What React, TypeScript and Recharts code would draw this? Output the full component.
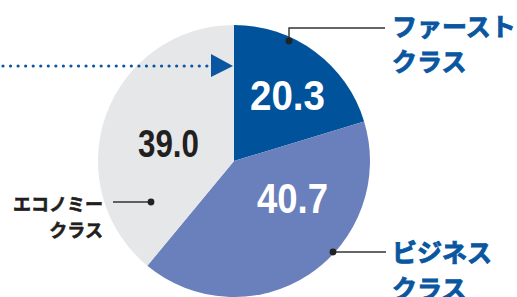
import React from 'react';
import { PieChart, Pie, Cell } from 'recharts';

const categories = ['ファーストクラス', 'ビジネスクラス', 'エコノミークラス'];
const labelLines = [['ファースト', 'クラス'], ['ビジネス', 'クラス'], ['エコノミー', 'クラス']];
const values = [20.3, 40.7, 39.0];
const valueLabels = ['20.3', '40.7', '39.0'];
const colors = ['#00529b', '#6a80bc', '#e6e7e9'];

const data = categories.map((name, i) => ({ name, value: values[i] }));

const NUM_FONT = '"Liberation Sans", Arial, sans-serif';
const JP_FONT = '"Noto Sans CJK JP", "Noto Sans", sans-serif';
const BLUE = '#0a56a0';
const INK = '#231f20';

const jpBlue = { fill: BLUE, stroke: BLUE, strokeWidth: 0.9, fontFamily: JP_FONT, fontWeight: 700, fontSize: 25 } as const;
const jpInk = { fill: INK, stroke: INK, strokeWidth: 0.6, fontFamily: JP_FONT, fontWeight: 700, fontSize: 18 } as const;

const renderLabel = (props: any) => {
  const { cx, cy, index } = props;
  if (index === 0) {
    return (
      <g key="l0">
        <text x={cx + 16} y={cy - 51} fill="#fff" fontFamily={NUM_FONT} fontWeight={700} fontSize={43}
          textLength={75} lengthAdjust="spacingAndGlyphs">{valueLabels[0]}</text>
        <polyline points={`${cx + 55},${cy - 120} ${cx + 55},${cy - 133} ${cx + 151},${cy - 133}`}
          fill="none" stroke="#333" strokeWidth={1.4} />
        <circle cx={cx + 55} cy={cy - 120} r={3.4} fill="#222" />
        <text x={cx + 158} y={cy - 125} {...jpBlue}>{labelLines[0][0]}</text>
        <text x={cx + 158} y={cy - 90} {...jpBlue}>{labelLines[0][1]}</text>
      </g>
    );
  }
  if (index === 1) {
    return (
      <g key="l1">
        <text x={cx + 23} y={cy + 52} fill="#fff" fontFamily={NUM_FONT} fontWeight={700} fontSize={42}
          textLength={71} lengthAdjust="spacingAndGlyphs">{valueLabels[1]}</text>
        <line x1={cx + 99} y1={cy + 91} x2={cx + 152} y2={cy + 91} stroke="#333" strokeWidth={1.4} />
        <circle cx={cx + 99} cy={cy + 91} r={3.4} fill="#222" />
        <text x={cx + 158} y={cy + 101} {...jpBlue}>{labelLines[1][0]}</text>
        <text x={cx + 158} y={cy + 137} {...jpBlue}>{labelLines[1][1]}</text>
      </g>
    );
  }
  return (
    <g key="l2">
      <text x={cx - 96} y={cy - 4} fill={INK} fontFamily={NUM_FONT} fontWeight={700} fontSize={38}
        textLength={61} lengthAdjust="spacingAndGlyphs">{valueLabels[2]}</text>
      <line x1={cx - 83} y1={cy + 41} x2={cx - 121} y2={cy + 41} stroke="#333" strokeWidth={1.4} />
      <circle cx={cx - 83} cy={cy + 41} r={3.4} fill="#222" />
      <text x={cx - 131} y={cy + 50} textAnchor="end" {...jpInk}>{labelLines[2][0]}</text>
      <text x={cx - 131} y={cy + 76} textAnchor="end" {...jpInk}>{labelLines[2][1]}</text>
    </g>
  );
};

export default function App() {
  return (
    <div style={{ position: 'absolute', left: 0, top: 0, width: 517, height: 297, background: '#fff', overflow: 'hidden' }}>
      <PieChart width={517} height={297} style={{ position: 'absolute', left: 0, top: 0 }} margin={{ top: 0, right: 0, bottom: 0, left: 0 }}>
        <Pie data={data} dataKey="value" nameKey="name" cx={234} cy={161} outerRadius={136}
          startAngle={90} endAngle={-270} stroke="none" isAnimationActive={false}
          label={renderLabel} labelLine={false}>
          {data.map((d, i) => <Cell key={d.name} fill={colors[i]} />)}
        </Pie>
      </PieChart>
      <svg width={517} height={297} style={{ position: 'absolute', left: 0, top: 0, pointerEvents: 'none' }}>
        <line x1={3} y1={66} x2={207} y2={66} stroke={BLUE} strokeWidth={3.2} strokeLinecap="round" strokeDasharray="0 7.55" />
        <polygon points="211,54 233,66 211,77" fill={BLUE} />
      </svg>
    </div>
  );
}
